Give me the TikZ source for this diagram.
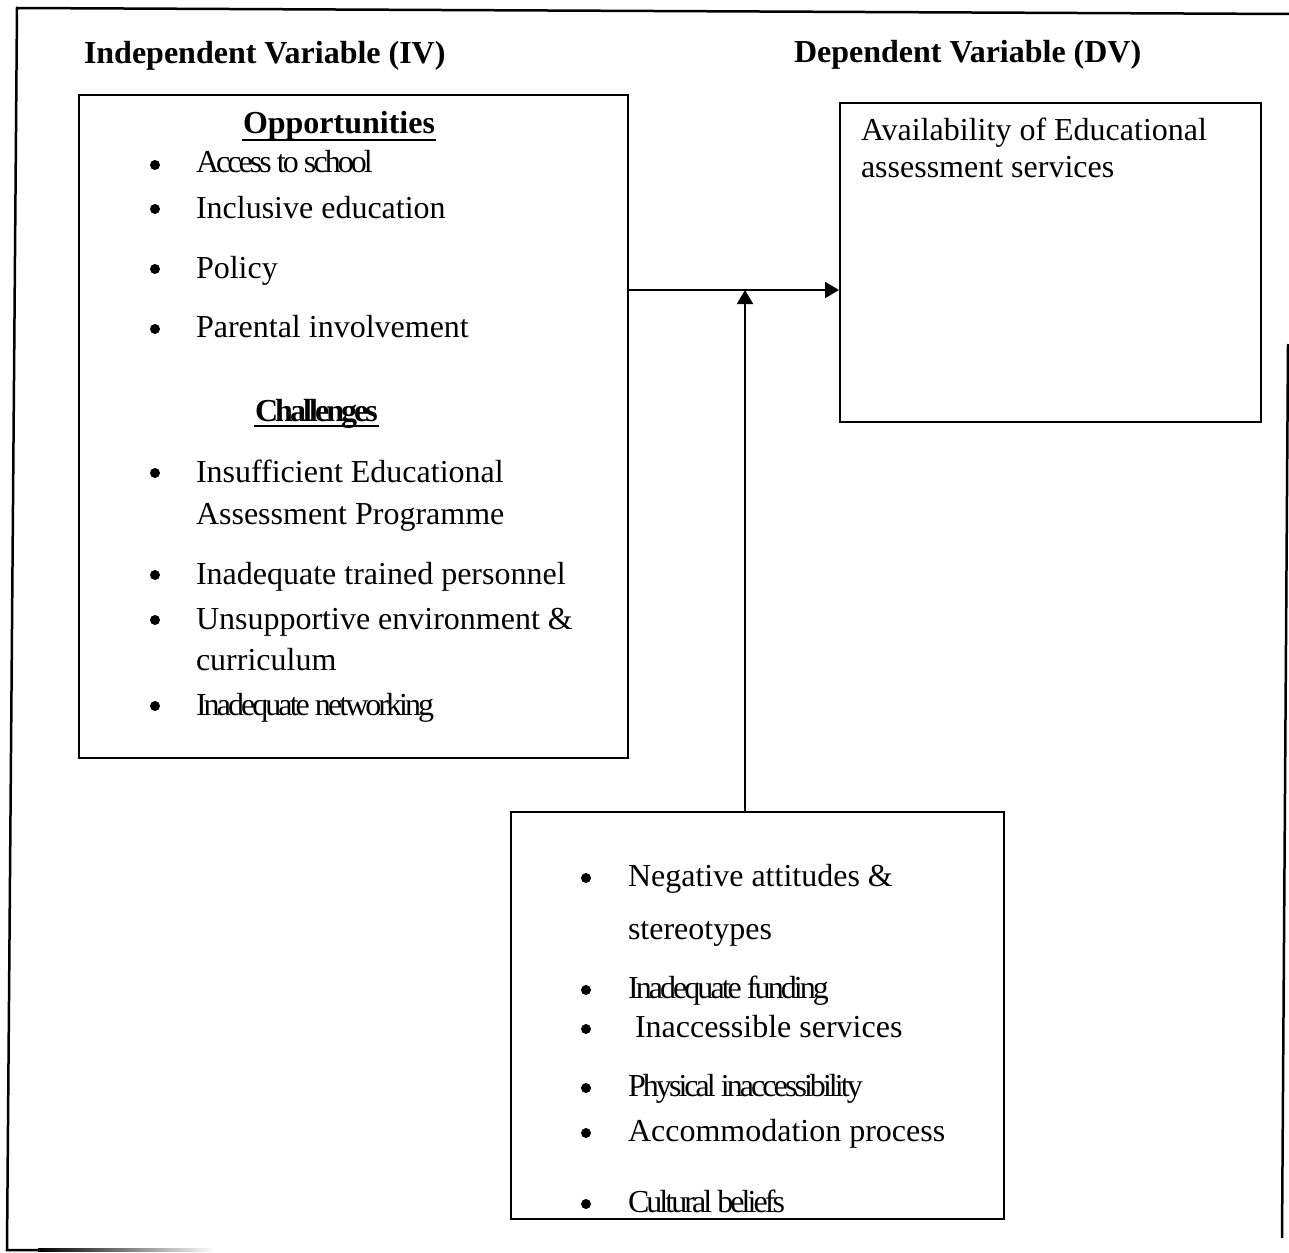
\documentclass[tikz,border=0pt]{standalone}
\usepackage{fontspec}
\setmainfont{Liberation Serif}
\usetikzlibrary{arrows.meta}
\newcommand{\condtext}[1]{{\addfontfeatures{LetterSpace=-9.2}#1}}
\begin{document}
\begin{tikzpicture}[x=1pt,y=-1pt,line width=2pt,
  tx/.style={anchor=base west, inner sep=0pt, font=\fontsize{32}{38}\selectfont},
  txb/.style={tx, font=\fontsize{32}{38}\selectfont\bfseries},
  box/.style={draw, line width=2pt, inner sep=0pt, anchor=north west},
  arr/.style={-{Triangle[length=14pt,width=16pt]}, line width=2pt},
  framel/.style={line width=2.5pt}]
\useasboundingbox (0,0) rectangle (1289,1252);
% outer frame
\draw[framel] (1289,14) -- (17,8) -- (7,1250) -- (40,1250);
\shade[left color=black, right color=white] (38,1248.7) rectangle (215,1251.3);
\draw[framel] (1288,344) -- (1282,1238);
% boxes
\node[box, minimum width=549pt, minimum height=663pt] (iv) at (78,94) {};
\node[box, minimum width=421pt, minimum height=319pt] (dv) at (839,102) {};
\node[box, minimum width=493pt, minimum height=407pt] (mod) at (510,811) {};
% titles
\node[txb] (ivt) at (83,64) {Independent Variable (IV)};
\node[txb] (dvt) at (793,63) {Dependent Variable (DV)};
% DV text
\node[tx] (dv1) at (860,141) {Availability of Educational};
\node[tx] (dv2) at (860,178) {assessment services};
% IV text
\node[txb] (opp) at (242,134) {Opportunities};
\draw ([yshift=-6pt]opp.base west) -- ([yshift=-6pt]opp.base east);
\node[tx] (o1) at (195,173) {\condtext{Access to school}};
\node[tx] (o2) at (195,218) {Inclusive education};
\node[tx] (o3) at (195,278) {Policy};
\node[tx] (o4) at (195,337) {Parental involvement};
\node[txb] (chal) at (254,421) {\condtext{Challenges}};
\draw ([yshift=-5pt]chal.base west) -- ([yshift=-5pt]chal.base east);
\node[tx] (c1a) at (195,482) {Insufficient Educational};
\node[tx] (c1b) at (195,524) {Assessment Programme};
\node[tx] (c2) at (195,584) {Inadequate trained personnel};
\node[tx] (c3a) at (195,629) {Unsupportive environment \&};
\node[tx] (c3b) at (195,670) {curriculum};
\node[tx] (c4) at (195,715) {\condtext{Inadequate networking}};
\foreach \b in {165,209,269,329,473,575,620,706} \fill (155,\b) circle (5pt);
% moderator text
\node[tx] (m1a) at (627,886) {Negative attitudes \&};
\node[tx] (m1b) at (627,939) {stereotypes};
\node[tx] (m2) at (627,998) {\condtext{Inadequate funding}};
\node[tx] (m3) at (634,1037) {Inaccessible services};
\node[tx] (m4) at (627,1096) {\condtext{Physical inaccessibility}};
\node[tx] (m5) at (627,1141) {Accommodation process};
\node[tx] (m6) at (627,1212) {\condtext{Cultural beliefs}};
\foreach \b in {878,990,1029,1088,1133,1204} \fill (586,\b) circle (5pt);
% connectors
\coordinate (j) at (745,290);
\draw[arr] (iv.east |- j) -- (dv.west |- j);
\draw[arr] (mod.north -| j) -- (j);
\end{tikzpicture}
\end{document}
